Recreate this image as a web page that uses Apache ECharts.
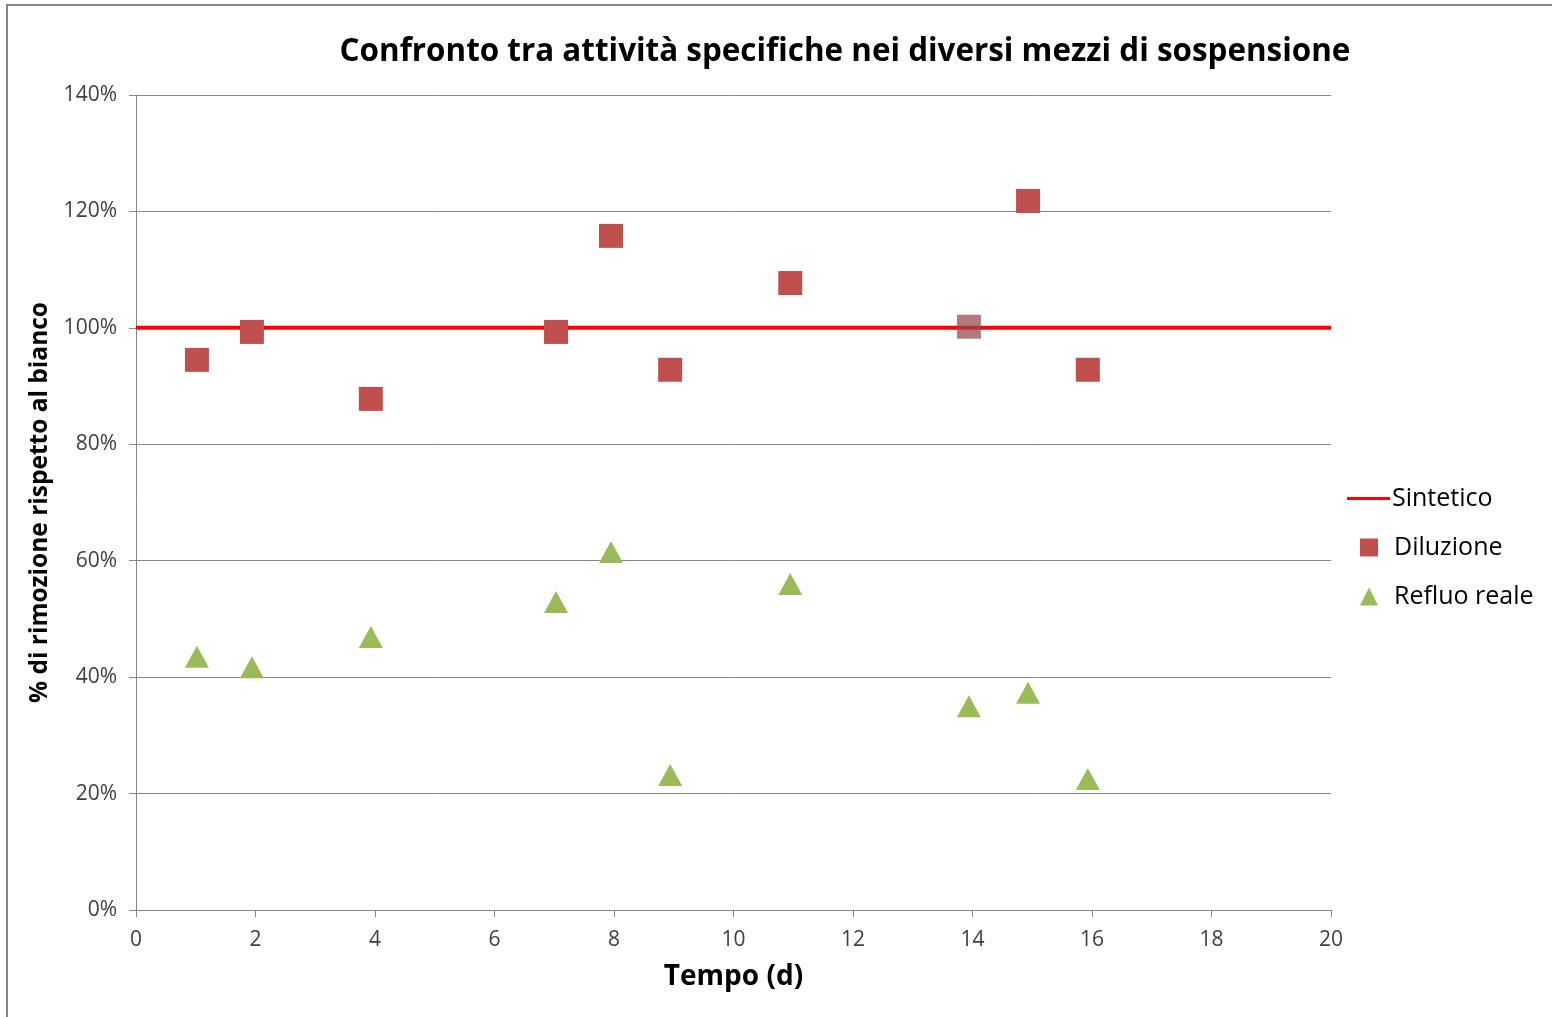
<!DOCTYPE html>
<html>
<head>
<meta charset="utf-8">
<script src="https://cdn.jsdelivr.net/npm/echarts@6/dist/echarts.min.js"></script>
<style>
html,body{margin:0;padding:0;background:#fff;}
#chart{width:1552px;height:1017px;}
</style>
</head>
<body>
<div id="chart"></div>
<script>
const days = [1.02, 1.94, 3.93, 7.03, 7.95, 8.94, 10.95, 13.94, 14.93, 15.93];
const diluizione = [0.945, 0.993, 0.878, 0.993, 1.158, 0.928, 1.077, 1.002, 1.218, 0.928];
const refluoReale = [0.435, 0.417, 0.469, 0.529, 0.615, 0.232, 0.560, 0.350, 0.373, 0.225];
const sinteticoX = [0, 20];
const sinteticoY = [1.0, 1.0];
const xTicks = [0, 2, 4, 6, 8, 10, 12, 14, 16, 18, 20];
const yTicks = [0, 0.2, 0.4, 0.6, 0.8, 1.0, 1.2, 1.4];

const FONT = '"Open Sans", "Liberation Sans", sans-serif';
const chart = echarts.init(document.getElementById('chart'), null, {renderer: 'canvas'});

const dilData = days.map((d, i) => {
  const item = {value: [d, diluizione[i]]};
  if (i === 7) item.itemStyle = {opacity: 0.72, color: '#96474A'};
  return item;
});
const refData = days.map((d, i) => [d, refluoReale[i]]);
const sinData = sinteticoX.map((x, i) => [x, sinteticoY[i]]);

const legendBase = {
  orient: 'vertical', padding: 0,
  textStyle: {fontFamily: FONT, fontSize: 25, color: '#000'},
  selectedMode: false
};

const option = {
  backgroundColor: '#fff',
  animation: false,
  title: {
    text: 'Confronto tra attività specifiche nei diversi mezzi di sospensione',
    left: 840, top: 32, textAlign: 'center',
    textStyle: {fontFamily: FONT, fontSize: 31.4, fontWeight: 'bold', color: '#000'}
  },
  graphic: [{
    type: 'rect', shape: {x: 7, y: 5, width: 1700, height: 1200},
    style: {fill: 'none', stroke: '#878787', lineWidth: 2}, silent: true, z: -1
  }],
  legend: [
    Object.assign({}, legendBase, {data: [{name: 'Sintetico', icon: 'rect'}], left: 1347, top: 486, itemWidth: 43, itemHeight: 3,
      textStyle: Object.assign({}, legendBase.textStyle, {padding: [0, 0, 0, -3]})}),
    Object.assign({}, legendBase, {data: [{name: 'Diluzione', icon: 'rect'}], left: 1360, top: 535, itemWidth: 18, itemHeight: 18,
      textStyle: Object.assign({}, legendBase.textStyle, {padding: [0, 0, 0, 11]})}),
    Object.assign({}, legendBase, {data: [{name: 'Refluo reale', icon: 'triangle'}], left: 1360, top: 584, itemWidth: 18, itemHeight: 18,
      textStyle: Object.assign({}, legendBase.textStyle, {padding: [0, 0, 0, 11]})})
  ],
  grid: {left: 136, right: 221, top: 95, bottom: 107, containLabel: false},
  xAxis: {
    type: 'value', min: 0, max: 20, interval: 2,
    name: 'Tempo (d)', nameLocation: 'middle', nameGap: 53,
    nameTextStyle: {fontFamily: FONT, fontSize: 28, fontWeight: 'bold', color: '#000'},
    axisLine: {show: true, lineStyle: {color: '#878787', width: 1}},
    axisTick: {show: true, length: 7, lineStyle: {color: '#878787'}},
    axisLabel: {fontFamily: FONT, fontSize: 21, color: '#404040', margin: 20,
      customValues: xTicks, formatter: v => String(v)},
    splitLine: {show: false}
  },
  yAxis: {
    type: 'value', min: 0, max: 1.4, interval: 0.2,
    name: '% di rimozione rispetto al bianco', nameLocation: 'middle', nameGap: 81, nameRotate: 90,
    nameTextStyle: {fontFamily: FONT, fontSize: 24.5, fontWeight: 'bold', color: '#000'},
    axisLine: {show: true, lineStyle: {color: '#878787', width: 1}},
    axisTick: {show: true, length: 7, lineStyle: {color: '#878787'}},
    axisLabel: {fontFamily: FONT, fontSize: 21, color: '#404040', margin: 19,
      customValues: yTicks, formatter: v => Math.round(v * 100) + '%'},
    splitLine: {show: true, lineStyle: {color: '#878787', width: 1}}
  },
  series: [
    {
      name: 'Sintetico', type: 'line', data: sinData, showSymbol: false, symbol: 'none',
      lineStyle: {color: '#FF0000', width: 4}, itemStyle: {color: '#FF0000'}, z: 2
    },
    {
      name: 'Diluzione', type: 'scatter', data: dilData, symbol: 'rect', symbolSize: 24,
      itemStyle: {color: '#C0504D', opacity: 1}, z: 3
    },
    {
      name: 'Refluo reale', type: 'scatter', data: refData, symbol: 'triangle', symbolSize: [24, 22],
      itemStyle: {color: '#9BBB59', opacity: 1}, z: 3
    }
  ]
};
chart.setOption(option);
</script>
</body>
</html>
